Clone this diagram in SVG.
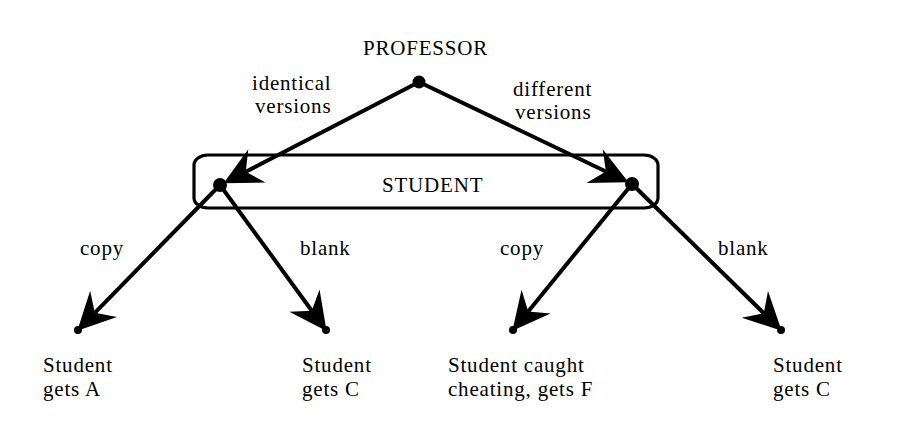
<svg xmlns="http://www.w3.org/2000/svg" width="904" height="448" viewBox="0 0 904 448">
<style>
text{font-family:"Liberation Serif","Times New Roman",serif;font-size:21px;letter-spacing:0.8px;fill:#000}
.edge{stroke:#000;stroke-width:4;fill:none;marker-end:url(#ah)}
.dot{fill:#000}
</style>
<defs>
<marker id="ah" markerUnits="userSpaceOnUse" markerWidth="40" markerHeight="40" viewBox="-10 -16 32 32" refX="0" refY="0" orient="auto" overflow="visible">
<path d="M20,0 L-10,-15 L0,0 L-10,15 Z" fill="#000"/>
</marker>
</defs>
<rect width="904" height="448" fill="#fff"/>
<g id="student-box">
<rect x="194" y="155" width="464" height="53" rx="14" ry="10" fill="none" stroke="#000" stroke-width="3.2"/>
<text x="382" y="192">STUDENT</text>
</g>
<g id="connectors">
<path class="edge" d="M419,82 L245.8,171.7"/>
<path class="edge" d="M419,82 L605.9,171.5"/>
<path class="edge" d="M220,185 L94.8,312.8"/>
<path class="edge" d="M220,185 L311.8,310.7"/>
<path class="edge" d="M632,184 L528.2,311.4"/>
<path class="edge" d="M632,184 L763.8,313.2"/>
<text x="252" y="90">identical</text>
<text x="255" y="113">versions</text>
<text x="513" y="96">different</text>
<text x="515" y="119">versions</text>
<text x="80" y="255">copy</text>
<text x="300" y="255">blank</text>
<text x="500" y="255">copy</text>
<text x="718" y="255">blank</text>
</g>
<g id="professor">
<circle class="dot" cx="419" cy="82" r="6.5"/>
<text x="363" y="55">PROFESSOR</text>
</g>
<g id="student-left">
<circle class="dot" cx="220" cy="185" r="7"/>
</g>
<g id="student-right">
<circle class="dot" cx="632" cy="184" r="7"/>
</g>
<g id="leaf-a">
<circle class="dot" cx="78" cy="330" r="4"/>
<text x="43" y="372">Student</text>
<text x="43" y="396">gets A</text>
</g>
<g id="leaf-c1">
<circle class="dot" cx="326" cy="330" r="4"/>
<text x="302" y="372">Student</text>
<text x="302" y="396">gets C</text>
</g>
<g id="leaf-f">
<circle class="dot" cx="513" cy="330" r="4"/>
<text x="448" y="372">Student caught</text>
<text x="448" y="396">cheating, gets F</text>
</g>
<g id="leaf-c2">
<circle class="dot" cx="781" cy="330" r="4"/>
<text x="773" y="372">Student</text>
<text x="773" y="396">gets C</text>
</g>
</svg>
